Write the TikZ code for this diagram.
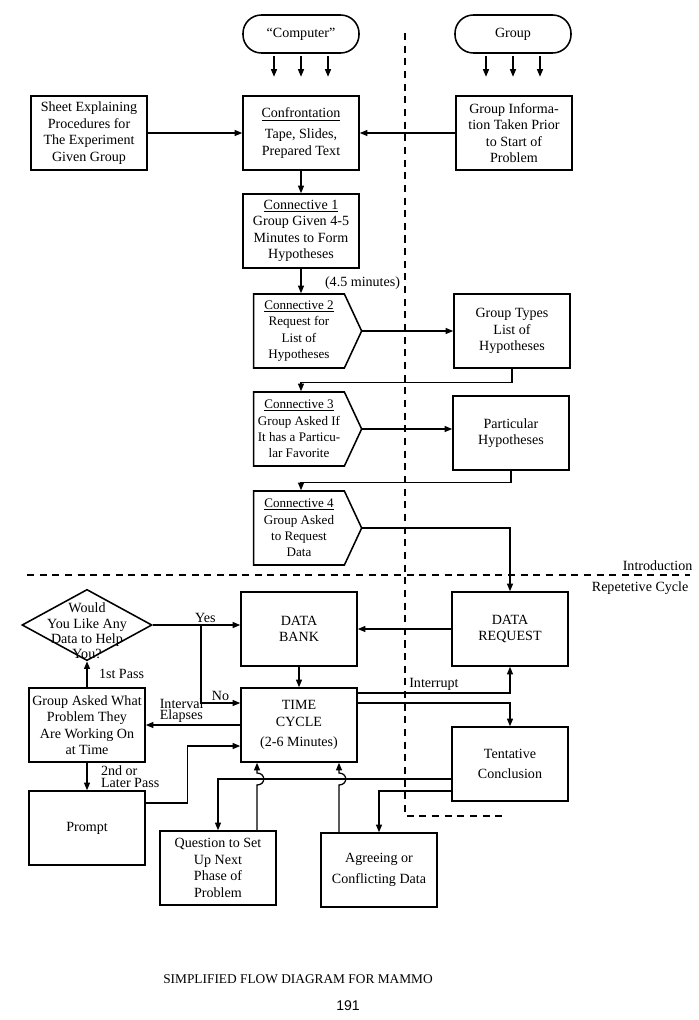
\documentclass[tikz,border=0pt]{standalone}
\usepackage{fontspec}
\setmainfont{Liberation Serif}
\newfontfamily\pagenofont{Liberation Sans}
\usetikzlibrary{arrows.meta,calc,shapes.geometric,shapes.symbols}

\begin{document}
\begin{tikzpicture}[
  x=0.025cm, y=-0.025cm,
  font=\fontsize{10}{11.7}\selectfont,
  box/.style={draw, line width=1.1pt, minimum width=2.9cm, minimum height=1.85cm, align=center, inner sep=2pt},
  term/.style={draw, line width=1.1pt, rounded corners=4.6mm, minimum width=2.9cm, minimum height=0.95cm},
  conn/.style={signal, signal to=east, signal pointer angle=130, draw, line width=1.1pt, minimum width=2.7cm, minimum height=1.85cm, align=center, inner xsep=2.5pt, font=\fontsize{9.3}{11.7}\selectfont},
  decision/.style={diamond, draw, line width=1.1pt, minimum width=3.25cm, minimum height=1.78cm, inner sep=0pt},
  arr/.style={-{Triangle[length=1.9mm,width=1.5mm]}, line width=0.9pt},
  divider/.style={dash pattern=on 5pt off 4pt, line width=0.8pt},
  lbl/.style={font=\fontsize{10}{8.5}\selectfont, align=left, inner sep=1pt}
]
\useasboundingbox (0,0) rectangle (698,1020);
% introduction part
\node[term] (comp) at (301,34) {``Computer''};
\node[term] (grp) at (513,34) {Group};
\node[box] (sheet) at (89,133) {Sheet Explaining\\Procedures for\\The Experiment\\Given Group};
\node[box] (conf) at (301,133) {\underline{Confrontation}\\[3pt]Tape, Slides,\\Prepared Text};
\node[box] (ginfo) at (514,133) {Group Informa-\\tion Taken Prior\\to Start of\\Problem};
\node[box] (conn1) at (301,231) {\underline{Connective 1}\\Group Given 4-5\\Minutes to Form\\Hypotheses};
\node[conn] (conn2) at (299,331) {\underline{Connective 2}\\Request for\\List of\\Hypotheses};
\node[box] (types) at (512,331) {Group Types\\List of\\Hypotheses};
\node[conn] (conn3) at (299,429) {\underline{Connective 3}\\Group Asked If\\It has a Particu-\\lar Favorite};
\node[box] (part) at (511,433) {Particular\\Hypotheses};
\node[conn] (conn4) at (299,528) {\underline{Connective 4}\\Group Asked\\to Request\\Data};
% repetitive cycle
\node[decision] (ask) at (87,625) {};
\node[lbl, align=center, font=\fontsize{10}{11}\selectfont] at ($(ask)+(0,6)$) {Would\\You Like Any\\Data to Help\\You?};
\node[box] (bank) at (299,629) {DATA\\BANK};
\node[box] (req) at (510,629) {DATA\\REQUEST};
\node[box] (tc) at (299,725) {TIME\\CYCLE\\[3pt](2-6 Minutes)};
\node[box] (ga) at (87,725) {Group Asked What\\Problem They\\Are Working On\\at Time};
\node[box] (tent) at (510,764) {Tentative\\[3pt]Conclusion};
\node[box] (prompt) at (87,828) {Prompt};
\node[box] (quest) at (218,868) {Question to Set\\Up Next\\Phase of\\Problem};
\node[box] (agree) at (379,870) {Agreeing or\\[3pt]Conflicting Data};
% dividers
\draw[divider] (405,33) -- (405,816) -- (507,816);
\draw[divider] (27,575) -- (690,575);
\node[anchor=south east, inner sep=1pt] (intro) at (694,572) {Introduction};
\node[anchor=north east, inner sep=1pt] (cycle) at (690,580) {Repetetive Cycle};
% connectors
\foreach \d in {-27,0,27} {
  \draw[arr] ($(comp.south)+(\d,2)$) -- ++(0,21);
  \draw[arr] ($(grp.south)+(\d,2)$) -- ++(0,21);
}
\draw[arr] (sheet) -- (conf);
\draw[arr] (ginfo) -- (conf);
\draw[arr] (conf) -- (conn1);
\draw[arr] (conn1.south) -- (conn1.south |- conn2.north) node[pos=0.6, anchor=west, xshift=5.5mm, lbl] {(4.5 minutes)};
\draw[arr] (conn2.east) -- (conn2.east -| types.west);
\draw[arr] (types.south) -- ++(0,14) -| (conn1 |- conn3.north);
\draw[arr] (conn3.east) -- (conn3.east -| part.west);
\draw[arr] (part.south) -- ++(0,12) -| (conn1 |- conn4.north);
\draw[arr] (conn4.east) -| (req.north);
\draw[arr] (req) -- (bank);
\draw[arr] (ask.east) -- (ask.east -| bank.west) node[pos=0.6, above, lbl] {Yes};
\coordinate (split) at ($(ask.east)!0.55!(ask.east -| bank.west)$);
\draw[arr] (split) |- ([yshift=0.55cm]tc.west) node[pos=0.75, above, lbl] {No};
\draw[arr] (bank) -- (tc);
\draw[arr] (ga) -- (ask) node[midway, right=0.25cm, lbl] {1st Pass};
\draw[arr] ([yshift=0.8cm]tc.east) -| (req.south) node[pos=0.25, above, lbl] {Interrupt};
\draw[arr] ([yshift=0.55cm]tc.east) -| (tent.north);
\draw[arr] (tc) -- (ga) node[pos=0.62, above, lbl] {Interval\\Elapses};
\draw[arr] (ga) -- (prompt) node[midway, right=0.3cm, lbl] {2nd or\\Later Pass};
\draw[arr] ([yshift=0.625cm]prompt.east) -- ++(42,0) |- ([yshift=-0.525cm]tc.west);
\coordinate (tq) at ([yshift=-0.375cm]tent.west);
\coordinate (ta) at ([yshift=-0.675cm]tent.west);
\draw[arr] (tq) -| (quest.north);
\draw[arr] (ta) -| (agree.north);
\coordinate (qup) at ([xshift=0.975cm]quest.north);
\coordinate (aup) at ([xshift=-1cm]agree.north);
\foreach \u in {qup,aup}
  \draw[arr] (\u) -- ($(\u |- tq)+(0,6)$) .. controls +(9,0) and +(9,0) .. ($(\u |- tq)+(0,-6)$) -- (\u |- tc.south);
% caption
\node[font=\fontsize{9.5}{11}\selectfont] (title) at (298,979) {SIMPLIFIED FLOW DIAGRAM FOR MAMMO};
\node[font=\pagenofont\fontsize{10}{12}\selectfont] (page) at (348,1006) {191};
\end{tikzpicture}
\end{document}
